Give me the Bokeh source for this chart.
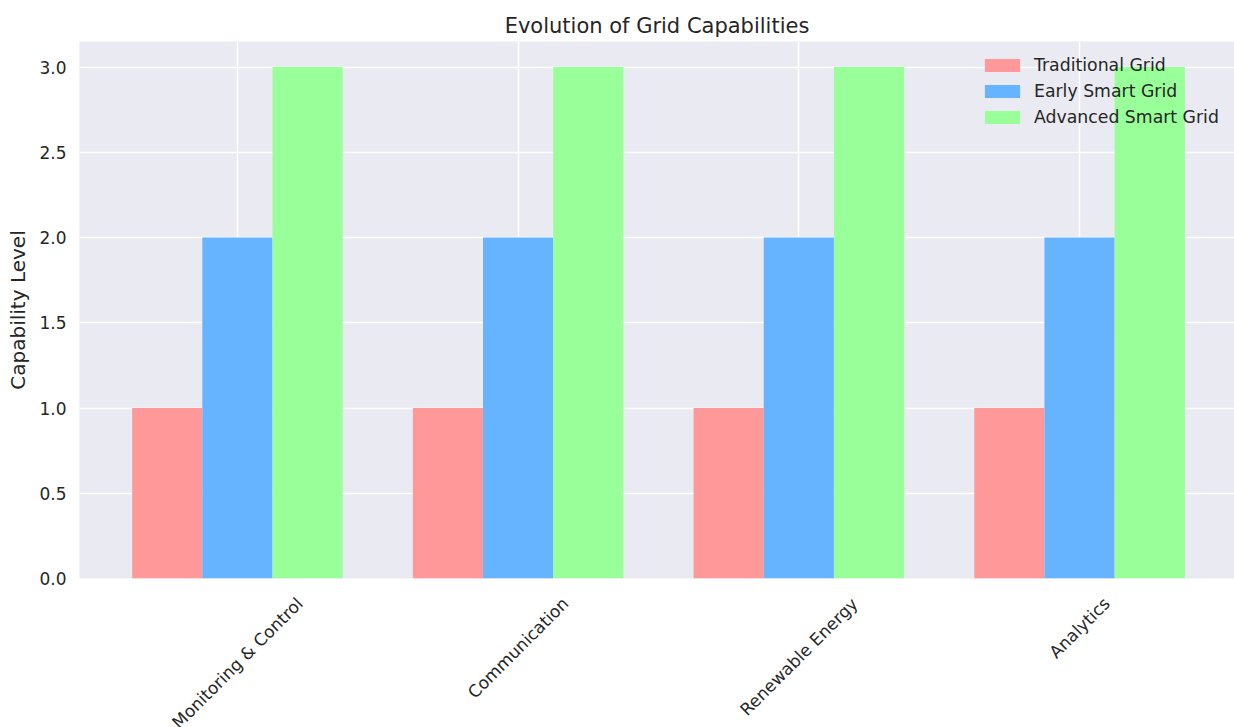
import math
from bokeh.plotting import figure
from bokeh.layouts import column
from bokeh.models import Range1d, FixedTicker, NumeralTickFormatter, Legend, LegendItem
from bokeh.core.properties import value
from bokeh.embed import file_html
from bokeh.resources import INLINE

# ---- data ----
categories = ["Monitoring & Control", "Communication", "Renewable Energy", "Analytics"]
series_names = ["Traditional Grid", "Early Smart Grid", "Advanced Smart Grid"]
traditional = [1, 1, 1, 1]
early_smart = [2, 2, 2, 2]
advanced_smart = [3, 3, 3, 3]
y_ticks = [0.0, 0.5, 1.0, 1.5, 2.0, 2.5, 3.0]
colors = ["#FF9999", "#66B3FF", "#99FF99"]

FONT = "DejaVu Sans"
TXT = "#262626"
BAR_W = 0.25
TICK_PX = 17
W = 1234
FRAME_BOTTOM = 578
PAD = 14                # white strip under the frame kept in the top figure
TOTAL_H = 727
LEFT = 79

xr = Range1d(-0.5625, 3.552)
p = figure(width=W, height=FRAME_BOTTOM + PAD, output_backend="svg", toolbar_location=None,
           x_range=xr, y_range=Range1d(0, 3.15),
           min_border_left=LEFT, min_border_right=0, min_border_top=41, min_border_bottom=PAD,
           title="Evolution of Grid Capabilities")
p.background_fill_color = "#EAEAF2"
p.border_fill_color = "white"
p.outline_line_color = None

p.title.align = "center"
p.title.text_font = FONT
p.title.text_font_size = "21px"
p.title.text_font_style = "normal"
p.title.text_color = TXT
p.title.standoff = 7

# grids
p.xgrid.ticker = FixedTicker(ticks=list(range(len(categories))))
p.xgrid.grid_line_color = "white"
p.xgrid.grid_line_width = 1.5
p.ygrid.grid_line_color = "white"
p.ygrid.grid_line_width = 1.5

# axes
p.xaxis.visible = False
p.yaxis.ticker = FixedTicker(ticks=y_ticks)
p.yaxis.formatter = NumeralTickFormatter(format="0.0")
p.yaxis.axis_line_color = None
p.yaxis.major_tick_line_color = None
p.yaxis.minor_tick_line_color = None
p.yaxis.major_tick_out = 0
p.yaxis.major_tick_in = 0
p.yaxis.minor_tick_out = 0
p.yaxis.major_label_standoff = 13
p.yaxis.major_label_text_font = FONT
p.yaxis.major_label_text_font_size = f"{TICK_PX}px"
p.yaxis.major_label_text_color = TXT
p.yaxis.axis_label = "Capability Level"
p.yaxis.axis_label_text_font = FONT
p.yaxis.axis_label_text_font_size = "20px"
p.yaxis.axis_label_text_font_style = "normal"
p.yaxis.axis_label_text_color = TXT
p.yaxis.axis_label_standoff = 6

# bars
series = [traditional, early_smart, advanced_smart]
offsets = [-BAR_W, 0.0, BAR_W]
items = []
for name, vals, col, off in zip(series_names, series, colors, offsets):
    xs = [i + off for i in range(len(categories))]
    r = p.vbar(x=xs, top=vals, bottom=0, width=BAR_W, fill_color=col, line_color=None)
    items.append(LegendItem(label=name, renderers=[r]))

# location = bottom-left corner of the legend, in px from the frame's bottom-left
# (legend patches are drawn with a 10% inset, so the glyph box is a bit larger)
legend = Legend(items=items, location=(901, 451), background_fill_alpha=0,
                border_line_color=None, glyph_width=44, glyph_height=16,
                label_standoff=10, label_height=20, spacing=6, padding=0, margin=0,
                label_text_font=FONT, label_text_font_size="17.3px", label_text_color=TXT)
p.add_layout(legend)

# ---- rotated category labels (centered under tick, like matplotlib rotation=45) ----
BOT_H = TOTAL_H - FRAME_BOTTOM - PAD
p2 = figure(width=W, height=BOT_H, output_backend="svg", toolbar_location=None,
            x_range=xr, y_range=Range1d(0, BOT_H),
            min_border_left=LEFT, min_border_right=0, min_border_top=0, min_border_bottom=0)
p2.axis.visible = False
p2.grid.visible = False
p2.outline_line_color = None
p2.background_fill_color = "white"
p2.border_fill_color = "white"

ADV = {' ': .318, '&': .780, 'A': .684, 'C': .698, 'E': .632, 'M': .863, 'R': .695,
       'a': .613, 'b': .635, 'c': .550, 'e': .615, 'g': .635, 'i': .278, 'l': .278,
       'm': .974, 'n': .634, 'o': .612, 'r': .411, 's': .521, 't': .392, 'u': .634,
       'w': .818, 'y': .592}
label_x, label_y = [], []
for i, cat in enumerate(categories):
    w = sum(ADV.get(ch, 0.6) for ch in cat) * TICK_PX
    h = 1.164 * TICK_PX
    drop = 15 + (w + h) / (2 * math.sqrt(2))   # below frame bottom, to text centre
    label_x.append(i)
    label_y.append(BOT_H - (drop - PAD))
p2.text(x=label_x, y=label_y, text=categories, angle=math.pi / 4,
        text_align="center", text_baseline="middle", text_font=value(FONT),
        text_font_size=f"{TICK_PX}px", text_color=TXT)

layout = column(p, p2, spacing=0)
open("out.html", "w").write(file_html(layout, INLINE))
